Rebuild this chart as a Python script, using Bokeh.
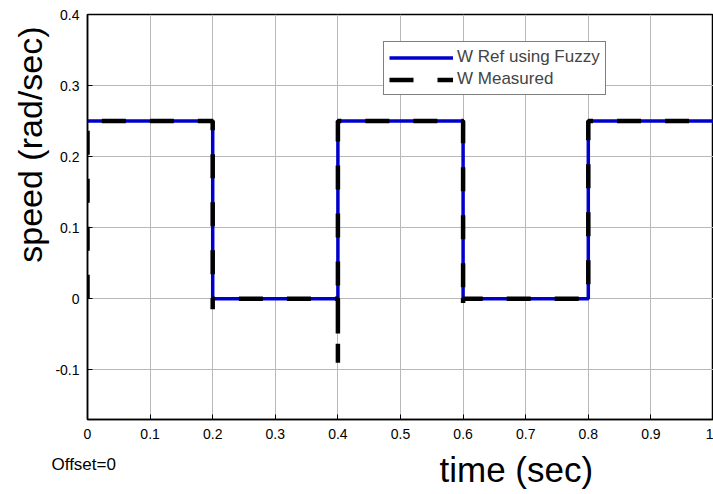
from bokeh.plotting import figure
from bokeh.models import FixedTicker, Legend, LegendItem, Range1d, Title
from bokeh.embed import file_html
from bokeh.resources import INLINE

# data
t_ref = [0.0, 0.2, 0.2, 0.4, 0.4, 0.6, 0.6, 0.8, 0.8, 1.0]
w_ref = [0.25, 0.25, 0.0, 0.0, 0.25, 0.25, 0.0, 0.0, 0.25, 0.25]
t_meas = [0.0, 0.0, 0.2, 0.2, 0.2, 0.4, 0.4, 0.4, 0.6, 0.6, 0.6, 0.8, 0.8, 1.0]
w_meas = [0.0, 0.25, 0.25, -0.015, 0.0, 0.0, -0.09, 0.25, 0.25, -0.012, 0.0, 0.0, 0.25, 0.25]
x_ticks = [0, 0.1, 0.2, 0.3, 0.4, 0.5, 0.6, 0.7, 0.8, 0.9, 1.0]
x_tick_labels = ["0", "0.1", "0.2", "0.3", "0.4", "0.5", "0.6", "0.7", "0.8", "0.9", "1"]
y_ticks = [-0.1, 0, 0.1, 0.2, 0.3, 0.4]
y_tick_labels = ["-0.1", "0", "0.1", "0.2", "0.3", "0.4"]

FONT = "Liberation Sans"
Y0, Y1 = -0.17, 0.4

p = figure(width=713, height=494, output_backend="svg", toolbar_location=None,
           x_range=Range1d(0, 1.0), y_range=Range1d(Y0, Y1),
           min_border_left=87, min_border_right=0, min_border_top=14, min_border_bottom=75)
p.background_fill_color = "white"
p.border_fill_color = "white"
p.outline_line_color = "black"
p.outline_line_width = 1.5

for ax, ticks, labels in ((p.xaxis, x_ticks, x_tick_labels), (p.yaxis, y_ticks, y_tick_labels)):
    ax.ticker = FixedTicker(ticks=ticks)
    ax.major_label_overrides = {t: l for t, l in zip(ticks, labels)}
    ax.major_tick_in = 5
    ax.major_tick_out = 0
    ax.minor_tick_in = 0
    ax.minor_tick_out = 0
    ax.axis_line_color = "black"
    ax.axis_line_width = 1.5
    ax.major_tick_line_color = "black"
    ax.major_label_text_font = FONT
    ax.major_label_text_font_size = "14px"
    ax.major_label_text_color = "black"
p.xaxis.major_label_standoff = 9
p.yaxis.major_label_standoff = 8

p.xgrid.ticker = FixedTicker(ticks=x_ticks)
p.ygrid.ticker = FixedTicker(ticks=y_ticks)
p.grid.grid_line_color = "#b8b8b8"
p.grid.grid_line_width = 1

r_ref = p.line(t_ref, w_ref, line_color="#0000cc", line_width=3.5)
r_meas = p.line(t_meas, w_meas, line_color="black", line_width=4.5, line_dash="24 24")

legend = Legend(items=[LegendItem(label="W Ref using Fuzzy", renderers=[r_ref]),
                       LegendItem(label="W Measured", renderers=[r_meas])],
                location=(296, 324))
legend.label_text_font = FONT
legend.label_text_font_size = "17px"
legend.border_line_color = "black"
legend.border_line_width = 1
legend.glyph_width = 64
legend.glyph_height = 19
legend.label_height = 19
legend.label_standoff = 4
legend.padding = 5
legend.spacing = 2
legend.margin = 0
legend.background_fill_alpha = 1
p.add_layout(legend)

def mk_title(text, size, **kw):
    return Title(text=text, text_font=FONT, text_font_size=size,
                 text_font_style="normal", text_color="black", **kw)

# y label, anchored towards the top of the frame
p.add_layout(mk_title("speed (rad/sec)", "34px", align="right", vertical_align="middle",
                      offset=12, standoff=5), "left")
# x label row: small "Offset=0" and big "time (sec)" share the row
p.add_layout(mk_title("Offset=0", "17px", align="left", vertical_align="top",
                      offset=-36, standoff=27), "below")
p.add_layout(mk_title("time (sec)", "35px", align="left", vertical_align="top",
                      offset=352, standoff=-79), "below")

open("out.html", "w").write(file_html(p, INLINE))
